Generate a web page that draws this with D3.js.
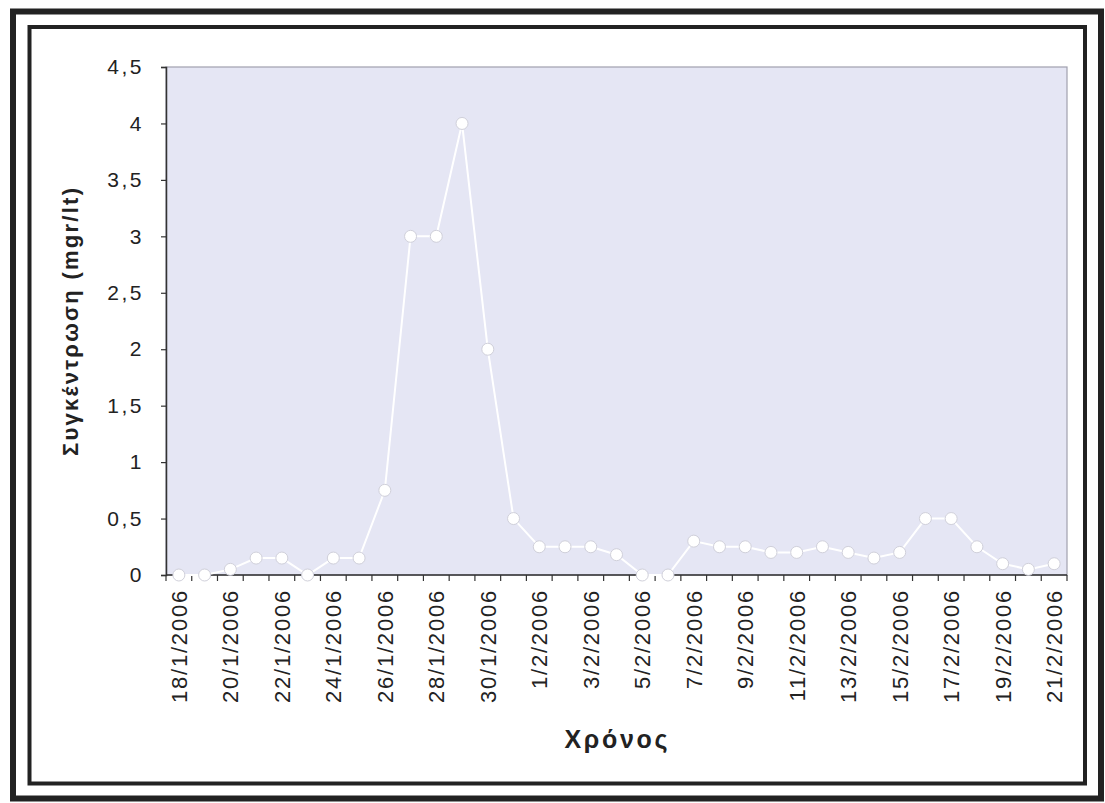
<!DOCTYPE html>
<html>
<head>
<meta charset="utf-8">
<script src="https://cdn.jsdelivr.net/npm/d3@7"></script>
<style>
  html, body { margin: 0; padding: 0; background: #fff; }
  svg { display: block; }
</style>
</head>
<body>
<svg id="chart" width="1105" height="803"></svg>
<script>
// Daily samples, 18 Jan – 21 Feb 2006
const dates = [
  "18/1/2006","19/1/2006","20/1/2006","21/1/2006","22/1/2006","23/1/2006","24/1/2006",
  "25/1/2006","26/1/2006","27/1/2006","28/1/2006","29/1/2006","30/1/2006","31/1/2006",
  "1/2/2006","2/2/2006","3/2/2006","4/2/2006","5/2/2006","6/2/2006","7/2/2006",
  "8/2/2006","9/2/2006","10/2/2006","11/2/2006","12/2/2006","13/2/2006","14/2/2006",
  "15/2/2006","16/2/2006","17/2/2006","18/2/2006","19/2/2006","20/2/2006","21/2/2006"
];
// Concentration (mgr/lt)
const concentration = [
  0, 0, 0.05, 0.15, 0.15, 0, 0.15,
  0.15, 0.75, 3, 3, 4, 2, 0.5,
  0.25, 0.25, 0.25, 0.18, 0, 0, 0.3,
  0.25, 0.25, 0.2, 0.2, 0.25, 0.2, 0.15,
  0.2, 0.5, 0.5, 0.25, 0.1, 0.05, 0.1
];
const yTicks = [0, 0.5, 1, 1.5, 2, 2.5, 3, 3.5, 4, 4.5];
const yTitle = "Συγκέντρωση (mgr/lt)";
const xTitle = "Χρόνος";

const svg = d3.select("#chart");
const plot = { left: 166, top: 67, right: 1067, bottom: 575 };
const font = "Arial, 'Liberation Sans', sans-serif";

// Double frame around the whole figure
svg.append("rect").attr("x", 13).attr("y", 11.5).attr("width", 1088).attr("height", 787)
  .attr("fill", "none").attr("stroke", "#222").attr("stroke-width", 6);
svg.append("rect").attr("x", 29.5).attr("y", 27).attr("width", 1055.5).attr("height", 756.5)
  .attr("fill", "none").attr("stroke", "#222").attr("stroke-width", 4);

const x = d3.scaleBand().domain(dates).range([plot.left, plot.right]).padding(0);
const y = d3.scaleLinear().domain([0, 4.5]).range([plot.bottom, plot.top]);

// Plot area
svg.append("rect")
  .attr("x", plot.left).attr("y", plot.top)
  .attr("width", plot.right - plot.left).attr("height", plot.bottom - plot.top)
  .attr("fill", "#e5e6f4").attr("stroke", "#a0a0ae").attr("stroke-width", 1.2);

const fmt = v => String(v).replace(".", ",");

// Y axis
const yAxis = svg.append("g").attr("transform", `translate(${plot.left},0)`)
  .call(d3.axisLeft(y).tickValues(yTicks).tickFormat(fmt).tickSize(5).tickPadding(17));
yAxis.select(".domain").attr("stroke", "#333").attr("stroke-width", 1.5);
yAxis.selectAll(".tick line").attr("stroke", "#333").attr("stroke-width", 1.2);
yAxis.selectAll(".tick text")
  .attr("font-family", font)
  .attr("font-size", 21).attr("fill", "#222").attr("letter-spacing", "2.5px");

// X axis: ticks sit between categories
const xAxisG = svg.append("g").attr("transform", `translate(0,${plot.bottom})`);
xAxisG.append("line")
  .attr("x1", plot.left).attr("x2", plot.right)
  .attr("stroke", "#333").attr("stroke-width", 1.5);
const boundaries = dates.map(d => x(d)).concat([x(dates[dates.length - 1]) + x.bandwidth()]);
xAxisG.selectAll("line.tick").data(boundaries).join("line")
  .attr("class", "tick")
  .attr("x1", d => d).attr("x2", d => d).attr("y1", 0).attr("y2", 6)
  .attr("stroke", "#333").attr("stroke-width", 1.2);
xAxisG.selectAll("text").data(dates.filter((d, i) => i % 2 === 0)).join("text")
  .attr("transform", d => `translate(${x(d) + x.bandwidth() / 2 + 8},14) rotate(-90)`)
  .attr("text-anchor", "end")
  .attr("font-family", font)
  .attr("font-size", 22).attr("fill", "#222").attr("letter-spacing", "1.8px")
  .text(d => d);

// Series line and markers
const line = d3.line()
  .x((d, i) => x(dates[i]) + x.bandwidth() / 2)
  .y(d => y(d));
svg.append("path").datum(concentration)
  .attr("d", line).attr("fill", "none")
  .attr("stroke", "#ffffff").attr("stroke-width", 2);
svg.selectAll("circle.pt").data(concentration).join("circle")
  .attr("class", "pt")
  .attr("cx", (d, i) => x(dates[i]) + x.bandwidth() / 2)
  .attr("cy", d => y(d))
  .attr("r", 6)
  .attr("fill", "#ffffff").attr("stroke", "#d0d0da").attr("stroke-width", 1);

// Axis titles
svg.append("text")
  .attr("transform", "translate(78,322) rotate(-90)")
  .attr("text-anchor", "middle")
  .attr("font-family", font)
  .attr("font-weight", "bold").attr("font-size", 22).attr("fill", "#222")
  .attr("textLength", 268).attr("lengthAdjust", "spacing")
  .text(yTitle);
svg.append("text")
  .attr("x", 616).attr("y", 748)
  .attr("text-anchor", "middle")
  .attr("font-family", font)
  .attr("font-weight", "bold").attr("font-size", 25).attr("fill", "#222")
  .attr("textLength", 103).attr("lengthAdjust", "spacing")
  .text(xTitle);
</script>
</body>
</html>
